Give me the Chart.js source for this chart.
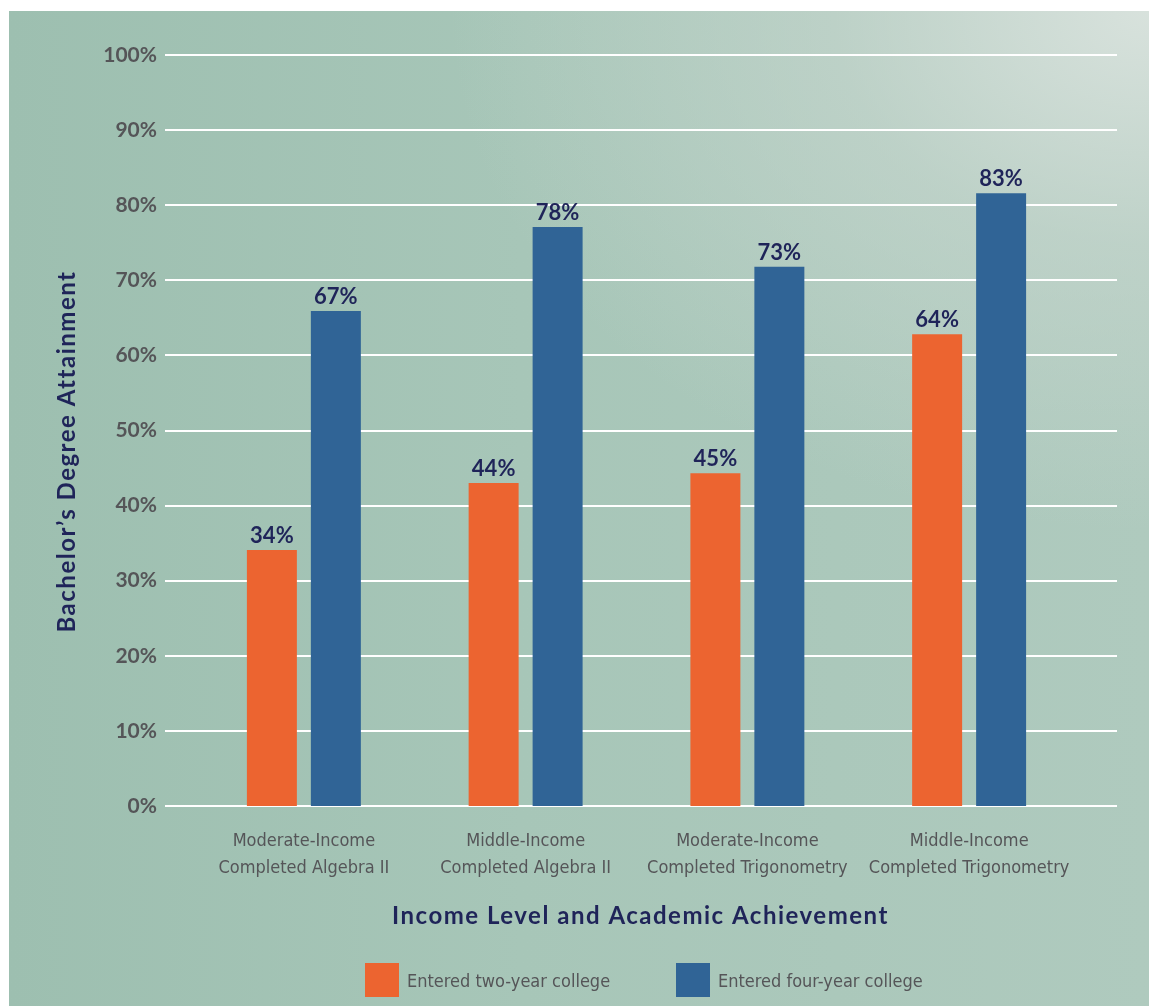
<!DOCTYPE html>
<html>
<head>
<meta charset="utf-8">
<script src="https://cdn.jsdelivr.net/npm/chart.js@4.4.1/dist/chart.umd.min.js"></script>
<style>
  html, body { margin: 0; padding: 0; background: #fff; overflow: hidden; }
  #bg {
    position: absolute; left: 9px; top: 11px; width: 1140px; height: 995px;
    background:
      radial-gradient(ellipse 700px 520px at 100% 0%, rgba(218,227,222,0.95) 0%, rgba(200,215,207,0.6) 45%, rgba(176,202,190,0) 100%),
      linear-gradient(to right, #9dbfb0 0%, #a7c6b8 45%, #afcabe 100%);
  }
  #wrap { position: absolute; left: 0; top: 0; width: 1149px; height: 1006px; }
  .legend-item {
    position: absolute; top: 963px; height: 34px; display: flex; align-items: center;
    font-family: 'DejaVu Sans', sans-serif; font-stretch: condensed;
    font-size: 18px; color: #555558; white-space: nowrap;
  }
  .legend-item .box { width: 34px; height: 34px; margin-right: 8px; }
</style>
</head>
<body>
<div id="bg"></div>
<div id="wrap"><canvas id="chart" width="1149" height="1006"></canvas></div>
<script>
// categories (two-line labels)
const categories = [
    ['Moderate-Income', 'Completed Algebra II'],
    ['Middle-Income', 'Completed Algebra II'],
    ['Moderate-Income', 'Completed Trigonometry'],
    ['Middle-Income', 'Completed Trigonometry']
];

// bar heights as drawn in the picture
const twoYear = [34.1, 43.0, 44.3, 62.8];
const fourYear = [65.9, 77.1, 71.8, 81.6];

// printed value labels
const twoYearLabels = ['34%', '44%', '45%', '64%'];
const fourYearLabels = ['67%', '78%', '73%', '83%'];

const seriesNames = ['Entered two-year college', 'Entered four-year college'];

const yTicks = [0, 10, 20, 30, 40, 50, 60, 70, 80, 90, 100];

const ORANGE = '#ec6430';
const BLUE = '#306496';
const NAVY = '#1f2459';
const GRAY = '#555558';

// gridlines run a bit wider than the category area
const gridPlugin = {
    id: 'wideGrid',
    beforeDatasetsDraw(chart) {
        const ctx = chart.ctx;
        const y = chart.scales.y;
        const left = chart.chartArea.left - 28;
        const right = chart.chartArea.right + 37;
        ctx.save();
        ctx.strokeStyle = '#ffffff';
        ctx.lineWidth = 2;
        yTicks.forEach(v => {
            const py = Math.round(y.getPixelForValue(v));
            ctx.beginPath();
            ctx.moveTo(left, py);
            ctx.lineTo(right, py);
            ctx.stroke();
        });
        ctx.restore();
    }
};

// value labels above bars + axis titles
const labelPlugin = {
    id: 'valueLabels',
    afterDatasetsDraw(chart) {
        const ctx = chart.ctx;
        const texts = [twoYearLabels, fourYearLabels];
        const area = chart.chartArea;
        ctx.save();
        ctx.fillStyle = NAVY;
        ctx.font = 'bold 22px Lato, sans-serif';
        ctx.textAlign = 'center';
        ctx.textBaseline = 'alphabetic';
        chart.data.datasets.forEach((ds, i) => {
            chart.getDatasetMeta(i).data.forEach((bar, j) => {
                ctx.fillText(texts[i][j], bar.x, bar.y - 7);
            });
        });

        ctx.font = 'bold 24px Lato, sans-serif';
        ctx.letterSpacing = '1.5px';
        ctx.textBaseline = 'middle';

        // x axis title
        ctx.fillText('Income Level and Academic Achievement', (area.left + area.right) / 2 + 4, 916);

        // y axis title
        ctx.translate(67, (area.top + area.bottom) / 2 + 21);
        ctx.rotate(-Math.PI / 2);
        ctx.fillText('Bachelor\u2019s Degree Attainment', 0, 0);
        ctx.restore();
    }
};

const ctx = document.getElementById('chart').getContext('2d');
const chart = new Chart(ctx, {
    type: 'bar',
    data: {
        labels: categories,
        datasets: [
            {
                label: seriesNames[0],
                data: twoYear,
                backgroundColor: ORANGE,
                categoryPercentage: 0.577,
                barPercentage: 0.78125
            },
            {
                label: seriesNames[1],
                data: fourYear,
                backgroundColor: BLUE,
                categoryPercentage: 0.577,
                barPercentage: 0.78125
            }
        ]
    },
    options: {
        responsive: false,
        animation: false,
        layout: { padding: { top: 55, right: 69, bottom: 52, left: 0 } },
        plugins: {
            legend: { display: false },
            tooltip: { enabled: false }
        },
        scales: {
            y: {
                min: 0,
                max: 100,
                afterFit: s => { s.width = 193; },
                afterBuildTicks: s => { s.ticks = yTicks.map(v => ({ value: v })); },
                grid: { display: false, drawTicks: false },
                border: { display: false },
                ticks: {
                    padding: 36,
                    color: GRAY,
                    font: { family: 'Lato, sans-serif', size: 21, weight: 'bold' },
                    callback: v => v + '%'
                }
            },
            x: {
                afterFit: s => { s.height = 148; },
                grid: { display: false, drawTicks: false },
                border: { display: false },
                ticks: {
                    autoSkip: false,
                    padding: 22,
                    color: GRAY,
                    maxRotation: 0,
                    // weight slot also carries font-stretch so the canvas picks a condensed face if any
                    font: { family: "'DejaVu Sans', sans-serif", size: 18, weight: 'condensed', lineHeight: 1.5 }
                }
            }
        }
    },
    plugins: [gridPlugin, labelPlugin]
});

// html legend built from the chart's datasets
const legendLeft = [365, 676];
chart.data.datasets.forEach((ds, i) => {
    const item = document.createElement('div');
    item.className = 'legend-item';
    item.style.left = legendLeft[i] + 'px';
    item.innerHTML = '<span class="box" style="background:' + ds.backgroundColor + '"></span><span>' + ds.label + '</span>';
    document.body.appendChild(item);
});
</script>
</body>
</html>
